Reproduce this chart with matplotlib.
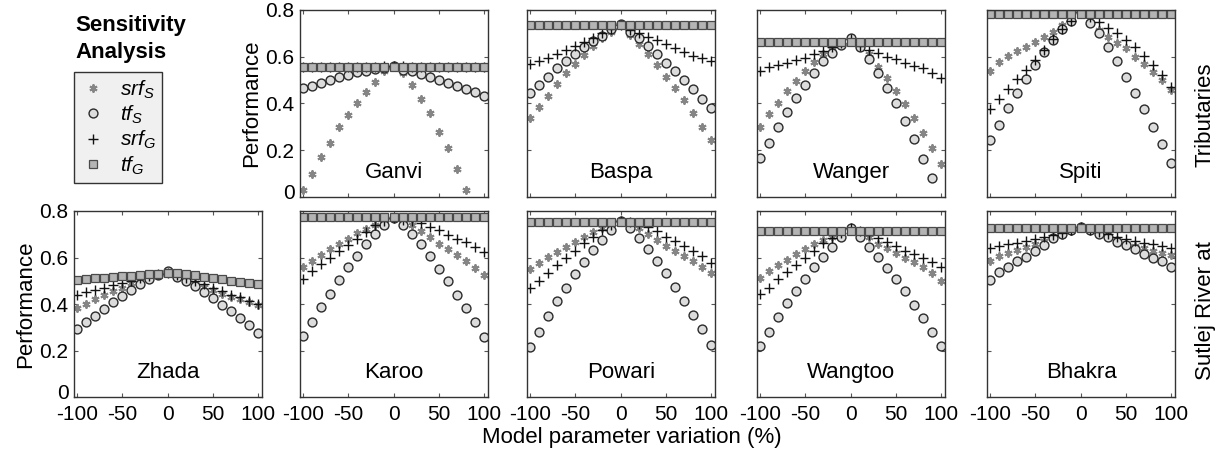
import numpy as np
import matplotlib
matplotlib.use('Agg')
import matplotlib.pyplot as plt
from matplotlib.transforms import ScaledTranslation

plt.rcParams['font.family'] = ['Liberation Sans', 'DejaVu Sans']
plt.rcParams['axes.unicode_minus'] = False
plt.rcParams['mathtext.fontset'] = 'custom'
plt.rcParams['mathtext.it'] = 'Liberation Sans:italic'
plt.rcParams['mathtext.rm'] = 'Liberation Sans'

nan = np.nan

# Variación del parámetro (%)
variation = [-100, -90, -80, -70, -60, -50, -40, -30, -20, -10, 0,
             10, 20, 30, 40, 50, 60, 70, 80, 90, 100]

# --- Tributaries ---
ganvi_srfS = [0.03, 0.10, 0.17, 0.23, 0.30, 0.35, 0.40, 0.45, 0.49, 0.54, 0.56,
              0.53, 0.48, 0.42, 0.36, 0.28, 0.21, 0.12, 0.03, nan, nan]
ganvi_tfS = [0.465, 0.475, 0.489, 0.50, 0.512, 0.522, 0.534, 0.541, 0.546, 0.552, 0.56,
             0.545, 0.537, 0.525, 0.512, 0.50, 0.486, 0.475, 0.462, 0.451, 0.432]
ganvi_srfG = [0.556, 0.556, 0.556, 0.556, 0.556, 0.556, 0.557, 0.557, 0.558, 0.559, 0.56,
              0.559, 0.558, 0.557, 0.557, 0.556, 0.556, 0.556, 0.556, 0.556, 0.556]
ganvi_tfG = [0.558, 0.558, 0.558, 0.558, 0.558, 0.558, 0.558, 0.558, 0.558, 0.558, 0.558,
             0.558, 0.558, 0.558, 0.558, 0.558, 0.558, 0.558, 0.558, 0.558, 0.558]

baspa_srfS = [0.337, 0.387, 0.434, 0.482, 0.53, 0.568, 0.608, 0.646, 0.679, 0.707, 0.736,
              0.693, 0.653, 0.612, 0.565, 0.515, 0.465, 0.415, 0.358, 0.30, 0.244]
baspa_tfS = [0.444, 0.48, 0.515, 0.55, 0.583, 0.612, 0.64, 0.666, 0.689, 0.717, 0.74,
             0.707, 0.679, 0.646, 0.612, 0.575, 0.538, 0.50, 0.46, 0.42, 0.38]
baspa_srfG = [0.569, 0.58, 0.596, 0.61, 0.63, 0.646, 0.665, 0.68, 0.70, 0.717, 0.736,
              0.715, 0.70, 0.686, 0.67, 0.653, 0.636, 0.62, 0.605, 0.593, 0.58]
baspa_tfG = [0.736, 0.736, 0.736, 0.736, 0.736, 0.736, 0.736, 0.736, 0.736, 0.736, 0.736,
             0.736, 0.736, 0.736, 0.736, 0.736, 0.736, 0.736, 0.736, 0.736, 0.736]

wanger_srfS = [0.30, 0.354, 0.404, 0.455, 0.497, 0.54, 0.576, 0.612, 0.64, 0.66, 0.68,
               0.655, 0.61, 0.558, 0.507, 0.454, 0.398, 0.34, 0.275, 0.208, 0.141]
wanger_tfS = [0.165, 0.233, 0.30, 0.364, 0.425, 0.48, 0.532, 0.58, 0.618, 0.65, 0.68,
              0.64, 0.59, 0.53, 0.465, 0.40, 0.324, 0.247, 0.163, 0.08, nan]
wanger_srfG = [0.54, 0.555, 0.565, 0.575, 0.585, 0.595, 0.61, 0.625, 0.64, 0.66, 0.675,
               0.645, 0.63, 0.615, 0.60, 0.59, 0.575, 0.56, 0.55, 0.53, 0.51]
wanger_tfG = [0.665, 0.665, 0.665, 0.665, 0.665, 0.665, 0.665, 0.665, 0.665, 0.665, 0.665,
              0.665, 0.665, 0.665, 0.665, 0.665, 0.665, 0.665, 0.665, 0.665, 0.665]

spiti_srfS = [0.54, 0.578, 0.603, 0.626, 0.643, 0.665, 0.686, 0.708, 0.736, 0.765, 0.786,
              0.76, 0.715, 0.685, 0.66, 0.636, 0.60, 0.57, 0.536, 0.50, 0.458]
spiti_tfS = [0.244, 0.308, 0.38, 0.444, 0.503, 0.565, 0.622, 0.672, 0.718, 0.755, 0.79,
             0.746, 0.70, 0.64, 0.58, 0.515, 0.447, 0.377, 0.30, 0.225, 0.144]
spiti_srfG = [0.375, 0.418, 0.46, 0.504, 0.543, 0.586, 0.63, 0.675, 0.72, 0.755, 0.79,
              0.77, 0.75, 0.725, 0.70, 0.672, 0.64, 0.605, 0.565, 0.52, 0.47]
spiti_tfG = [0.783, 0.783, 0.783, 0.783, 0.783, 0.783, 0.783, 0.783, 0.783, 0.783, 0.783,
             0.783, 0.783, 0.783, 0.783, 0.783, 0.783, 0.783, 0.783, 0.783, 0.783]

# --- Sutlej River at ---
zhada_srfS = [0.381, 0.40, 0.42, 0.44, 0.455, 0.47, 0.49, 0.50, 0.515, 0.525, 0.535,
              0.52, 0.505, 0.49, 0.475, 0.46, 0.445, 0.43, 0.42, 0.41, 0.395]
zhada_tfS = [0.294, 0.323, 0.35, 0.378, 0.407, 0.436, 0.462, 0.487, 0.509, 0.526, 0.54,
             0.516, 0.497, 0.477, 0.45, 0.425, 0.397, 0.371, 0.34, 0.31, 0.275]
zhada_srfG = [0.44, 0.45, 0.46, 0.47, 0.48, 0.49, 0.50, 0.51, 0.52, 0.53, 0.535,
              0.525, 0.51, 0.50, 0.485, 0.47, 0.455, 0.44, 0.43, 0.415, 0.40]
zhada_tfG = [0.504, 0.507, 0.51, 0.513, 0.516, 0.519, 0.522, 0.525, 0.528, 0.531, 0.535,
             0.532, 0.528, 0.523, 0.518, 0.513, 0.507, 0.501, 0.495, 0.49, 0.484]

karoo_srfS = [0.559, 0.586, 0.61, 0.635, 0.658, 0.68, 0.704, 0.722, 0.74, 0.755, 0.77,
              0.755, 0.74, 0.714, 0.69, 0.66, 0.636, 0.61, 0.584, 0.555, 0.526]
karoo_tfS = [0.262, 0.323, 0.386, 0.443, 0.504, 0.559, 0.607, 0.657, 0.70, 0.74, 0.77,
             0.74, 0.70, 0.657, 0.606, 0.552, 0.499, 0.44, 0.381, 0.323, 0.259]
karoo_srfG = [0.509, 0.54, 0.571, 0.60, 0.628, 0.654, 0.68, 0.71, 0.738, 0.755, 0.77,
              0.762, 0.755, 0.748, 0.733, 0.719, 0.697, 0.68, 0.665, 0.646, 0.625]
karoo_tfG = [0.774, 0.774, 0.774, 0.774, 0.774, 0.774, 0.774, 0.774, 0.774, 0.774, 0.774,
             0.774, 0.774, 0.774, 0.774, 0.774, 0.774, 0.774, 0.774, 0.774, 0.774]

powari_srfS = [0.552, 0.578, 0.603, 0.625, 0.646, 0.668, 0.69, 0.709, 0.726, 0.74, 0.755,
               0.745, 0.725, 0.70, 0.675, 0.65, 0.628, 0.605, 0.585, 0.56, 0.533]
powari_tfS = [0.214, 0.281, 0.349, 0.412, 0.47, 0.528, 0.581, 0.632, 0.675, 0.719, 0.755,
              0.726, 0.683, 0.635, 0.586, 0.533, 0.472, 0.414, 0.354, 0.291, 0.223]
powari_srfG = [0.47, 0.501, 0.533, 0.567, 0.599, 0.629, 0.661, 0.69, 0.719, 0.74, 0.755,
               0.752, 0.745, 0.733, 0.714, 0.69, 0.671, 0.651, 0.629, 0.607, 0.578]
powari_tfG = [0.752, 0.752, 0.752, 0.752, 0.752, 0.752, 0.752, 0.752, 0.752, 0.752, 0.752,
              0.752, 0.752, 0.752, 0.752, 0.752, 0.752, 0.752, 0.752, 0.752, 0.752]

wangtoo_srfS = [0.512, 0.541, 0.567, 0.588, 0.613, 0.635, 0.657, 0.675, 0.69, 0.71, 0.725,
                0.71, 0.69, 0.66, 0.64, 0.62, 0.60, 0.58, 0.56, 0.535, 0.50]
wangtoo_tfS = [0.219, 0.281, 0.345, 0.403, 0.458, 0.509, 0.557, 0.603, 0.646, 0.69, 0.725,
               0.69, 0.646, 0.603, 0.555, 0.506, 0.454, 0.397, 0.339, 0.28, 0.219]
wangtoo_srfG = [0.443, 0.468, 0.506, 0.538, 0.567, 0.60, 0.628, 0.661, 0.683, 0.705, 0.725,
                0.715, 0.697, 0.683, 0.665, 0.65, 0.63, 0.615, 0.60, 0.58, 0.56]
wangtoo_tfG = [0.712, 0.712, 0.712, 0.712, 0.712, 0.712, 0.712, 0.712, 0.712, 0.712, 0.712,
               0.712, 0.712, 0.712, 0.712, 0.712, 0.712, 0.712, 0.712, 0.712, 0.712]

bhakra_srfS = [0.583, 0.607, 0.62, 0.632, 0.645, 0.657, 0.67, 0.683, 0.697, 0.713, 0.73,
               0.72, 0.705, 0.69, 0.675, 0.66, 0.65, 0.64, 0.63, 0.62, 0.61]
bhakra_tfS = [0.504, 0.539, 0.561, 0.583, 0.604, 0.626, 0.652, 0.683, 0.70, 0.717, 0.733,
              0.717, 0.70, 0.687, 0.665, 0.652, 0.635, 0.617, 0.60, 0.583, 0.561]
bhakra_srfG = [0.639, 0.648, 0.656, 0.664, 0.672, 0.68, 0.689, 0.698, 0.707, 0.718, 0.73,
               0.72, 0.71, 0.70, 0.69, 0.68, 0.672, 0.664, 0.656, 0.648, 0.639]
bhakra_tfG = [0.729, 0.729, 0.729, 0.729, 0.729, 0.729, 0.729, 0.729, 0.729, 0.729, 0.729,
              0.729, 0.729, 0.729, 0.729, 0.729, 0.729, 0.729, 0.729, 0.729, 0.729]

top_row = [('Ganvi', ganvi_srfS, ganvi_tfS, ganvi_srfG, ganvi_tfG),
           ('Baspa', baspa_srfS, baspa_tfS, baspa_srfG, baspa_tfG),
           ('Wanger', wanger_srfS, wanger_tfS, wanger_srfG, wanger_tfG),
           ('Spiti', spiti_srfS, spiti_tfS, spiti_srfG, spiti_tfG)]
bottom_row = [('Zhada', zhada_srfS, zhada_tfS, zhada_srfG, zhada_tfG),
              ('Karoo', karoo_srfS, karoo_tfS, karoo_srfG, karoo_tfG),
              ('Powari', powari_srfS, powari_tfS, powari_srfG, powari_tfG),
              ('Wangtoo', wangtoo_srfS, wangtoo_tfS, wangtoo_srfG, wangtoo_tfG),
              ('Bhakra', bhakra_srfS, bhakra_tfS, bhakra_srfG, bhakra_tfG)]

series_labels = ['$srf_S$', '$tf_S$', '$srf_G$', '$tf_G$']
estilos = [dict(marker=(6, 2, 0), color='#858585', ms=5.8, mew=1.4),
           dict(marker='o', mfc='#dcdcdc', mec='#2b2b2b', ms=6.4, mew=1.0),
           dict(marker='+', color='#111111', ms=6.8, mew=1.0),
           dict(marker='s', mfc='#b4b4b4', mec='#4a4a4a', ms=5.3, mew=0.9)]

W, H = 1224.0, 457.0
fig = plt.figure(figsize=(12.24, 4.57), dpi=100)

col_left = [74, 300, 527, 757, 987]
panel_w = 188


def make_panel(left, top, bottom, name, data, show_x, show_y):
    ax = fig.add_axes([left / W, 1 - bottom / H, panel_w / W, (bottom - top) / H])
    for vals, lab, st in zip(data, series_labels, estilos):
        ax.plot(variation, vals, ls='none', label=lab, **st)
    ax.set_xlim(-103, 104)
    ax.set_ylim(0, 0.8)
    ax.set_xticks([-100, -50, 0, 50, 100])
    ax.set_xticklabels(['-100', '-50', '0', '50', '100'])
    ax.set_yticks([0, 0.2, 0.4, 0.6, 0.8])
    ax.set_yticklabels(['0', '0.2', '0.4', '0.6', '0.8'])
    ax.tick_params(direction='in', top=True, right=True, length=3, width=0.8,
                   color='#555555', labelsize=15, pad=4,
                   labelbottom=show_x, labelleft=show_y)
    ax.tick_params(axis='x', pad=6)
    for sp in ax.spines.values():
        sp.set_color('#333333')
        sp.set_linewidth(1.0)
    if show_y:
        ax.set_ylabel('Performance', fontsize=16, labelpad=2)
        # el "0" queda un poco más arriba, como en el original
        lab0 = ax.get_yticklabels()[0]
        lab0.set_transform(lab0.get_transform() +
                           ScaledTranslation(0, 4 / 72, fig.dpi_scale_trans))
    ax.text(0.5, 0.13, name, transform=ax.transAxes, ha='center', va='center',
            fontsize=16)
    return ax


ax_ref = None
for i, (name, *data) in enumerate(top_row):
    ax = make_panel(col_left[i + 1], 10, 197, name, data, False, i == 0)
    if i == 0:
        ax_ref = ax
for i, (name, *data) in enumerate(bottom_row):
    make_panel(col_left[i], 211, 397, name, data, True, i == 0)

# Leyenda
handles, labels = ax_ref.get_legend_handles_labels()
fig.text(75 / W, 1 - 39 / H, 'Sensitivity\nAnalysis', fontweight='bold',
         fontsize=16, ha='left', va='center', linespacing=1.4)
leg = fig.legend(handles, labels, loc='upper left', bbox_to_anchor=(74 / W, 1 - 72 / H),
                 frameon=True, fancybox=False, edgecolor='#333333',
                 facecolor='#f0f0f0', framealpha=1, fontsize=15,
                 handlelength=1.2, handletextpad=0.7, labelspacing=0.15,
                 borderpad=0.3, borderaxespad=0)
leg.get_frame().set_linewidth(1.0)

fig.text(632 / W, 1 - 437 / H, 'Model parameter variation (%)', ha='center',
         va='center', fontsize=16)
fig.text(1205 / W, 1 - 115 / H, 'Tributaries', rotation=90, ha='center',
         va='center', fontsize=16)
fig.text(1205 / W, 1 - 311 / H, 'Sutlej River at', rotation=90, ha='center',
         va='center', fontsize=16)

fig.savefig('out.png', dpi=100)
